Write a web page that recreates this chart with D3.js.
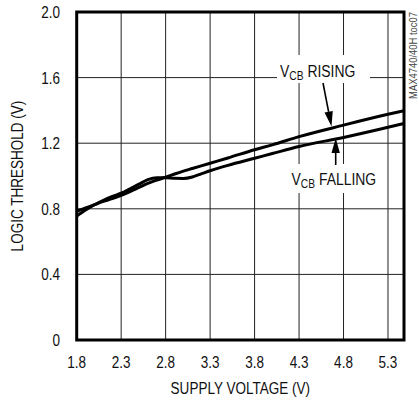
<!DOCTYPE html>
<html>
<head>
<meta charset="utf-8">
<script src="https://cdn.jsdelivr.net/npm/d3@7/dist/d3.min.js"></script>
<style>
  html, body { margin: 0; padding: 0; background: #fff; }
  svg { display: block; }
  text { font-family: "Liberation Sans", Arial, sans-serif; fill: #111; }
</style>
</head>
<body>
<svg id="chart" width="419" height="400"></svg>
<script>
// ---- data ----
const voltages = [1.8, 1.9, 2.0, 2.1, 2.2, 2.3, 2.4, 2.5, 2.6, 2.7, 2.8, 2.9, 3.0, 3.1, 3.2, 3.3, 3.5, 3.8, 4.0, 4.3, 4.8, 5.3, 5.48];
const rising   = [0.785, 0.805, 0.825, 0.845, 0.862, 0.882, 0.905, 0.930, 0.955, 0.975, 0.993, 1.012, 1.030, 1.046, 1.062, 1.078, 1.110, 1.160, 1.190, 1.240, 1.310, 1.376, 1.398];
const falling  = [0.755, 0.792, 0.825, 0.852, 0.875, 0.895, 0.922, 0.950, 0.978, 0.990, 0.990, 0.986, 0.985, 0.994, 1.013, 1.032, 1.065, 1.108, 1.137, 1.180, 1.235, 1.297, 1.320];
const xTicks = [1.8, 2.3, 2.8, 3.3, 3.8, 4.3, 4.8, 5.3];
const xTickLabels = ["1.8", "2.3", "2.8", "3.3", "3.8", "4.3", "4.8", "5.3"];
const yTicks = [0, 0.4, 0.8, 1.2, 1.6, 2.0];
const yTickLabels = ["0", "0.4", "0.8", "1.2", "1.6", "2.0"];
const xTitle = "SUPPLY VOLTAGE (V)";
const yTitle = "LOGIC THRESHOLD (V)";
const noteId = "MAX4740/40H toc07";

// ---- layout ----
const L = 76.7, R = 404, T = 12, B = 340;
const NARROW = 0.82;
const svg = d3.select("#chart");
const x = d3.scaleLinear().domain([1.8, 5.48]).range([L, R]);
const y = d3.scaleLinear().domain([0, 2]).range([B, T]);

// narrow text helper (Arial-Narrow look from Liberation Sans)
function ntext(px, py, str, size, anchor, rot) {
  const g = svg.append("g")
    .attr("transform", `translate(${px},${py}) rotate(${rot || 0}) scale(${NARROW},1)`);
  return g.append("text").attr("text-anchor", anchor || "start").attr("font-size", size).text(str);
}

// gridlines
const grid = svg.append("g").attr("stroke", "#222").attr("stroke-width", 1);
grid.selectAll("line.v").data(xTicks.slice(1)).join("line")
  .attr("x1", d => x(d)).attr("x2", d => x(d)).attr("y1", T).attr("y2", B);
grid.selectAll("line.h").data(yTicks.slice(1, -1)).join("line")
  .attr("y1", d => y(d)).attr("y2", d => y(d)).attr("x1", L).attr("x2", R);

// curves
const line = d3.line().x(d => x(d[0])).y(d => y(d[1])).curve(d3.curveMonotoneX);
const sRise = voltages.map((v, i) => [v, rising[i]]);
const sFall = voltages.map((v, i) => [v, falling[i]]);
svg.append("g").attr("fill", "none").attr("stroke", "#000").attr("stroke-width", 3)
  .attr("stroke-linejoin", "round")
  .selectAll("path").data([sRise, sFall]).join("path").attr("d", line);

// label backgrounds (break the gridlines)
svg.append("rect").attr("x", 277).attr("y", 55).attr("width", 93).attr("height", 28).attr("fill", "#fff");
svg.append("rect").attr("x", 285).attr("y", 164).attr("width", 98).attr("height", 29).attr("fill", "#fff");

// frame
svg.append("rect").attr("x", L).attr("y", T).attr("width", R - L).attr("height", B - T)
  .attr("fill", "none").attr("stroke", "#000").attr("stroke-width", 3);

// tick labels
xTicks.forEach((d, i) => ntext(x(d), 368, xTickLabels[i], 16.5, "middle"));
yTicks.forEach((d, i) => ntext(60, y(d) + 5.9, yTickLabels[i], 16.5, "end"));

// axis titles
ntext((L + R) / 2, 393.5, xTitle, 16.5, "middle");
ntext(22.5, (T + B) / 2, yTitle, 16.5, "middle", -90);

// right id note
ntext(417, 12, noteId, 11.5, "end", -90).style("fill", "#444");

// annotations
function vcb(xp, yp, word) {
  const t = ntext(xp, yp, null, 17, "start");
  t.append("tspan").text("V");
  t.append("tspan").attr("font-size", 12.5).attr("dy", 3).text("CB");
  t.append("tspan").attr("dy", -3).text(" " + word);
}
vcb(280, 76.7, "RISING");
vcb(291.5, 184.5, "FALLING");

function arrow(x1, y1, x2, y2) {
  const ang = Math.atan2(y2 - y1, x2 - x1);
  const len = 15, w = 4.2;
  const bx = x2 - len * Math.cos(ang), by = y2 - len * Math.sin(ang);
  svg.append("line").attr("x1", x1).attr("y1", y1).attr("x2", bx).attr("y2", by)
    .attr("stroke", "#000").attr("stroke-width", 1.6);
  const px = -Math.sin(ang) * w, py = Math.cos(ang) * w;
  svg.append("path")
    .attr("d", `M${x2},${y2}L${bx + px},${by + py}L${bx - px},${by - py}Z`)
    .attr("fill", "#000");
}
arrow(323, 83, 331.5, 126.5);
arrow(335.7, 165, 335.7, 138);
</script>
</body>
</html>
